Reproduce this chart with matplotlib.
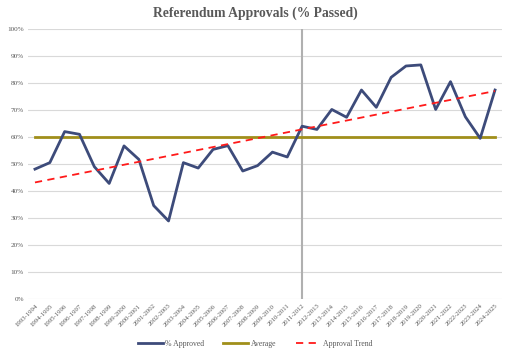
import numpy as np
import matplotlib
matplotlib.use("Agg")
import matplotlib.pyplot as plt
from matplotlib.ticker import PercentFormatter

seasons = [f"{y}-{y+1}" for y in range(1993, 2025)]
approved = [48.1, 50.5, 62.0, 61.0, 49.0, 42.8, 56.7, 51.7, 34.6, 28.9,
            50.5, 48.5, 55.4, 56.8, 47.4, 49.4, 54.4, 52.6, 64.0, 62.8,
            70.2, 67.3, 77.4, 71.0, 82.1, 86.3, 86.7, 70.2, 80.5, 67.5,
            59.5, 77.4]
marker_season = "2011-2012"

x = np.arange(len(seasons))
vals = np.array(approved)
avg = np.full(len(vals), vals.mean())
coef = np.polyfit(x, vals, 1)
trend = np.polyval(coef, x)

fig = plt.figure(figsize=(5.1, 3.57), dpi=100)
ax = fig.add_axes([28/510, 1-299/357, 474/510, 270/357])

ax.set_xlim(-0.47, len(seasons) - 1 + 0.47)
ax.set_ylim(0, 100)
ax.yaxis.set_major_locator(plt.MultipleLocator(10))
ax.yaxis.set_major_formatter(PercentFormatter(decimals=0))
ax.grid(axis="y", color="#d9d9d9", linewidth=0.8)
ax.set_axisbelow(True)
for s in ax.spines.values():
    s.set_visible(False)
ax.tick_params(length=0, labelsize=5.2, colors="#595959", pad=3)
ax.set_xticks(x)
ax.set_xticklabels(seasons, rotation=45, ha="right", rotation_mode="anchor",
                   family="Liberation Serif", fontsize=4.9)
for lab in ax.get_yticklabels():
    lab.set_family("Liberation Serif")

ax.axvline(seasons.index(marker_season), color="#b0b0b0", linewidth=1.5, zorder=1)

ax.plot(x, vals, color="#3d4b7a", linewidth=2.0, label="% Approved", zorder=3)
ax.plot(x, avg, color="#a08f1a", linewidth=2.0, label="Average", zorder=2)
ax.plot(x, trend, color="#ff1a1a", linewidth=1.3, linestyle=(0, (4, 3)),
        label="Approval Trend", zorder=4)

fig.text(0.5, 1 - 13/357, "Referendum Approvals (% Passed)", ha="center", va="center",
         family="Liberation Serif", fontweight="bold", fontsize=9.8, color="#595959")

leg = fig.legend(loc="center", bbox_to_anchor=(0.5, 1 - 344/357), ncol=3, frameon=False,
                 prop={"family": "Liberation Serif", "size": 5.6}, handlelength=3.2,
                 columnspacing=2.5, handletextpad=0.3)
for t in leg.get_texts():
    t.set_color("#595959")

fig.savefig("out.png", dpi=100, facecolor="white")
